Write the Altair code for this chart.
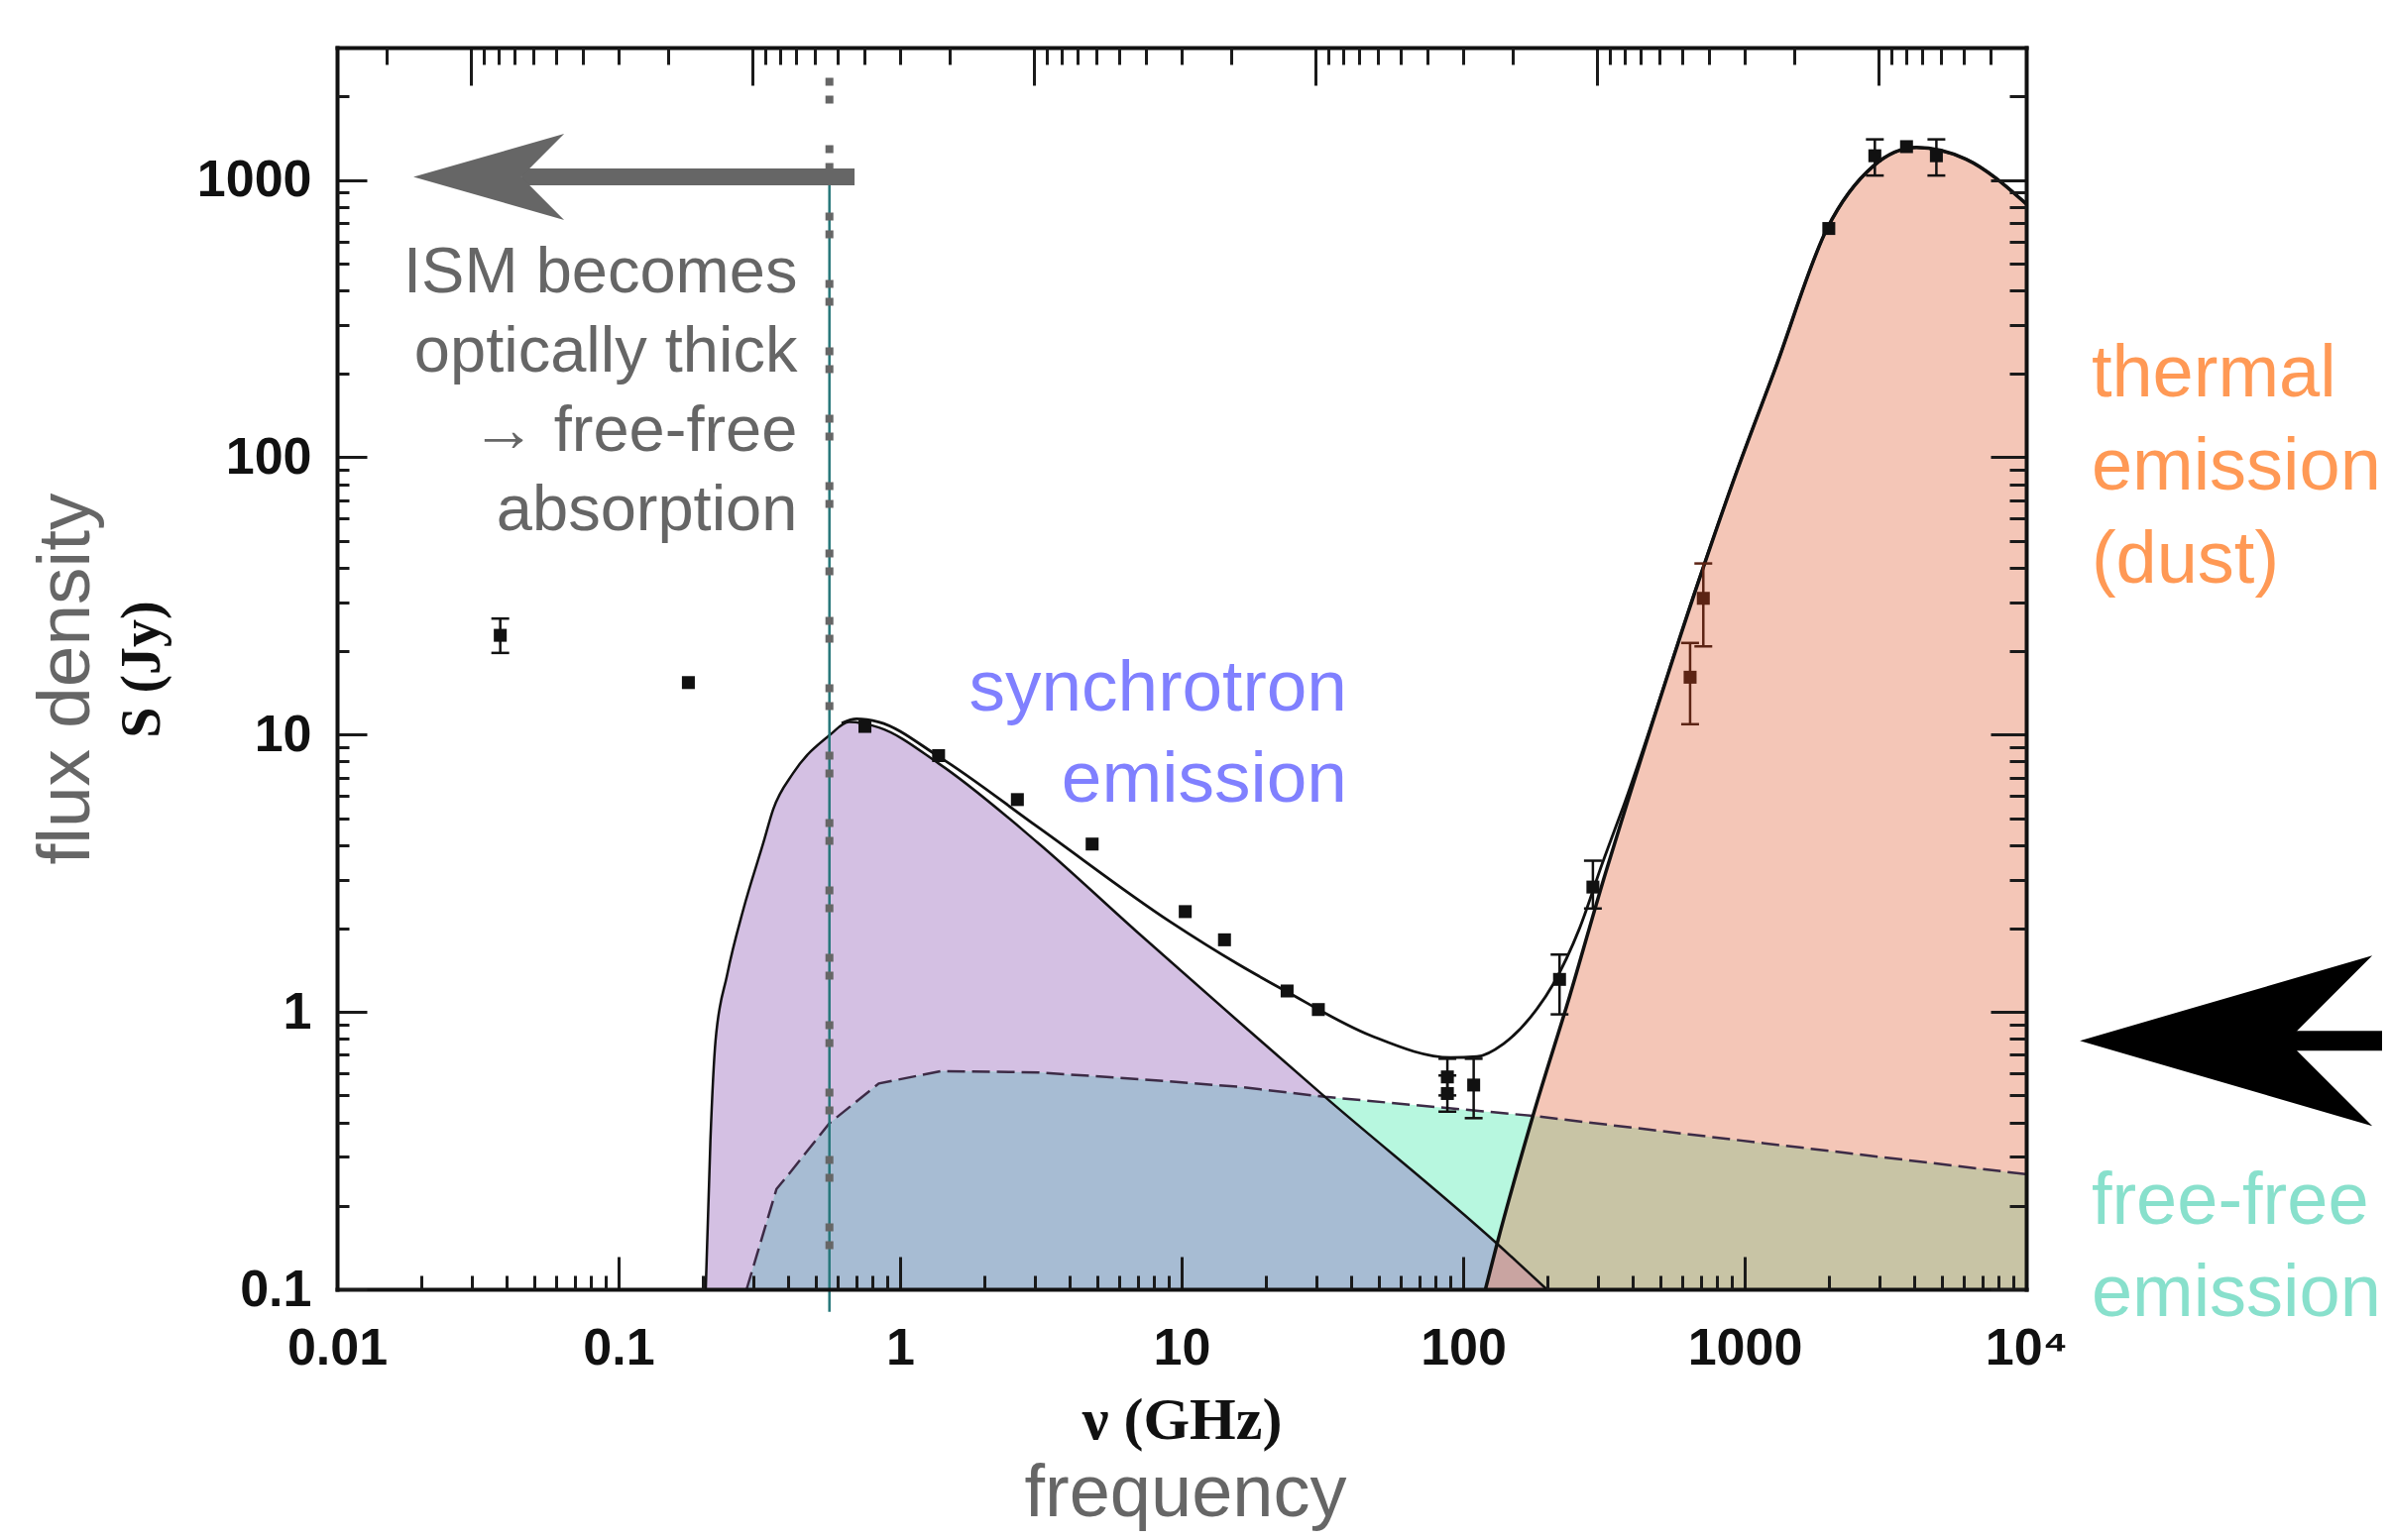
import json
import altair as alt
import pandas as pd

# ---------------- data (nu in GHz, S in Jy) ----------------
syn_nu = [0.204, 0.212, 0.221, 0.243, 0.278, 0.327, 0.354, 0.417, 0.561, 0.659, 0.841,
          1.37, 3.08, 6.92, 16.0, 32.3, 132, 198]
syn_S = [0.1, 0.346, 0.787, 1.36, 2.36, 4.08, 5.37, 7.26, 9.94, 11.1, 10.6,
         7.87, 4.08, 1.95, 0.92, 0.494, 0.146, 0.1]

ff_nu = [0.285, 0.364, 0.406, 0.561, 0.84, 1.40, 3.1, 7.1, 16.0, 32.3, 177, 923, 10000]
ff_S = [0.1, 0.230, 0.263, 0.397, 0.552, 0.612, 0.605, 0.572, 0.537, 0.494, 0.422, 0.346, 0.26]

dust_nu = [120, 132, 177, 239, 321, 373, 703, 923, 1276, 1963, 2870, 4074, 6109, 10000]
dust_S = [0.1, 0.146, 0.422, 1.14, 3.19, 5.22, 38.4, 85.0, 205, 668, 1124, 1309, 1188, 820]

tot_nu = [0.62, 0.70, 0.84, 1.37, 3.08, 9.08, 16.0, 23.4, 47.2, 90.3, 112, 139, 173, 209,
          259, 313, 373, 703, 923, 1276, 1963, 2870, 4074, 6109, 10000]
tot_S = [11.0, 11.4, 11.1, 8.34, 4.65, 2.12, 1.48, 1.19, 0.82, 0.685, 0.69, 0.767, 0.954, 1.26,
         2.0, 3.46, 5.6, 38.7, 85.3, 205, 668, 1124, 1309, 1188, 820]

# crossing frequencies of the components
syn_ff_cross = 32.3
dust_ff_cross = 177
syn_dust_cross = 132

obs_nu = [0.038, 0.177, 0.75, 1.37, 2.61, 4.81, 10.3, 14.2, 23.7, 30.6, 87.9, 87.9, 109,
          220, 289, 640, 713, 1990, 2900, 3758, 4797]
obs_S = [22.8, 15.4, 10.7, 8.4, 5.83, 4.03, 2.30, 1.82, 1.19, 1.02, 0.583, 0.508, 0.545,
         1.31, 2.82, 16.1, 31.0, 668, 1222, 1318, 1222]

err_nu = [0.038, 87.9, 87.9, 109, 220, 289, 640, 713, 2900, 4797]
err_lo = [19.7, 0.50, 0.437, 0.414, 0.98, 2.36, 10.9, 20.8, 1037, 1037]
err_hi = [26.2, 0.678, 0.59, 0.678, 1.61, 3.51, 21.4, 41.4, 1400, 1400]

# tick values / labels
x_major = [0.01, 0.1, 1, 10, 100, 1000, 10000]
x_labels = ["0.01", "0.1", "1", "10", "100", "1000", "10⁴"]
y_major = [0.1, 1, 10, 100, 1000]
y_labels = ["0.1", "1", "10", "100", "1000"]
minor_mult = [2, 3, 4, 5, 6, 7, 8, 9]
C_GHZ_M = 0.2998          # top axis: wavelength ticks, nu = c / lambda
lam_decades_m = [1e-5, 1e-4, 1e-3, 1e-2, 1e-1, 1, 10]

# annotations
vline_nu = 0.561
teal_top, teal_bottom = 1100, 0.083
dots_top, dots_bottom = 2335, 0.1
grey_arrow = dict(head_nu=0.0346, tail_nu=0.689, notch_nu=0.0452, S=1025)
black_arrow = dict(head_nu=51290, notch_nu=40000, tail_nu=185000, S=0.787)

ism_text = "ISM becomes\noptically thick\n→ free-free\nabsorption"
ism_pos = (0.4317, 391.6)
syn_text = "synchrotron\nemission"
syn_pos = (38.7, 12.2)
dust_text = "thermal\nemission\n(dust)"
dust_pos = (17060, 166.4)
fft_text = "free-free\nemission"
fft_pos = (17060, 0.172)

# ---------------- chart ----------------
W, H = 1704, 1253
xs = alt.Scale(type="log", domain=[0.01, 10000], nice=False)
ys = alt.Scale(type="log", domain=[0.1, 3000], nice=False)
SANS = "Liberation Sans"
SERIF = "Liberation Serif"


def df(nu, S):
    return pd.DataFrame({"nu": nu, "S": S})


syn = df(syn_nu, syn_S)
ff = df(ff_nu, ff_S)
dust = df(dust_nu, dust_S)
tot = df(tot_nu, tot_S)
syn_ff = pd.concat([ff[ff.nu <= syn_ff_cross], syn[syn.nu > syn_ff_cross]])
dust_ff = pd.concat([dust[dust.nu <= dust_ff_cross], ff[ff.nu > dust_ff_cross]])
syn_dust = pd.concat([dust[dust.nu <= syn_dust_cross], syn[syn.nu > syn_dust_cross]])

x_minor = [m * d for d in x_major[:-1] for m in minor_mult]
y_minor = [m * d for d in y_major[:-1] for m in minor_mult] + [2000]
top_all = [C_GHZ_M / (m * lam) for lam in lam_decades_m for m in range(1, 10)]
top_all = [v for v in top_all if 0.01 <= v <= 10000]
top_major = [C_GHZ_M / lam for lam in lam_decades_m if 0.01 <= C_GHZ_M / lam <= 10000]
top_minor = [v for v in top_all if all(abs(v - t) > 1e-9 for t in top_major)]


def X(field, axis=None):
    return alt.X(field, type="quantitative", scale=xs, axis=axis)


def Y(field, axis=None):
    return alt.Y(field, type="quantitative", scale=ys, axis=axis, stack=False)


def tick_axis(orient, offset, values, size, domain):
    return alt.Axis(orient=orient, offset=offset, values=values, labels=False, grid=False,
                    title=None, domain=domain, domainColor="#111111", domainWidth=4,
                    domainCap="square", ticks=True, tickColor="#1a1a1a", tickWidth=3,
                    tickSize=size, zindex=1)


x_label_expr = f"{json.dumps(x_labels, ensure_ascii=False)}[indexof({json.dumps(x_major)}, datum.value)]"
y_label_expr = f"{json.dumps(y_labels, ensure_ascii=False)}[indexof({json.dumps(y_major)}, datum.value)]"

ax_x_labels = alt.Axis(orient="bottom", values=x_major, labelExpr=x_label_expr, ticks=False,
                       tickSize=0, domain=False, grid=False, labelFont=SANS, labelFontWeight="bold",
                       labelFontSize=52, labelColor="#111111", labelPadding=34, labelFlush=False,
                       labelOverlap=False, title="ν (GHz)", titleFont=SERIF, titleFontWeight="bold",
                       titleFontSize=60, titleColor="#111111", titleY=150, titleBaseline="alphabetic")
ax_y_labels = alt.Axis(orient="left", values=y_major, labelExpr=y_label_expr, ticks=False,
                       tickSize=0, domain=False, grid=False, labelFont=SANS, labelFontWeight="bold",
                       labelFontSize=52, labelColor="#111111", labelPadding=26, labelFlush=False,
                       labelOverlap=False, title="S (Jy)", titleFont=SERIF, titleFontWeight="bold",
                       titleFontSize=56, titleColor="#111111", titleX=-180, titleY=627,
                       titleAngle=270, titleAlign="center", titleBaseline="alphabetic")

ax_xb_major = tick_axis("top", -H, x_major, 33, True)
ax_xb_minor = tick_axis("top", -H, x_minor, 14, False)
ax_xt_major = tick_axis("bottom", -H, top_major, 38, True)
ax_xt_minor = tick_axis("bottom", -H, top_minor, 17, False)
ax_yl_major = tick_axis("right", -W, y_major, 30, True)
ax_yl_minor = tick_axis("right", -W, y_minor, 12, False)
ax_yr_major = tick_axis("left", -W, y_major, 36, True)
ax_yr_minor = tick_axis("left", -W, y_minor, 17, False)


def area(data, color, interp, xaxis=None, yaxis=None):
    return alt.Chart(data).mark_area(color=color, interpolate=interp, opacity=1).encode(
        x=X("nu", xaxis), y=Y("S", yaxis), y2=alt.datum(0.1))


def line(data, color, width, interp, dash=None):
    kw = dict(color=color, strokeWidth=width, interpolate=interp)
    if dash:
        kw["strokeDash"] = dash
    return alt.Chart(data).mark_line(**kw).encode(x=X("nu"), y=Y("S"))


layers = [
    area(syn, "#d4c0e3", "monotone", ax_x_labels, ax_y_labels),
    area(ff, "#b7f7df", "linear", ax_xb_major, ax_yl_major),
    area(dust, "#f4c6b7", "monotone", ax_xb_minor, ax_yl_minor),
    area(syn_ff, "#a7bcd3", "linear", ax_xt_major, ax_yr_major),
    area(dust_ff, "#c8c4a5", "linear", ax_xt_minor, ax_yr_minor),
    area(syn_dust, "#c9a4a1", "linear"),
    line(ff, "#3d2b46", 2.5, "linear", [18, 7]),
    line(syn, "#111111", 2.5, "monotone"),
    line(dust, "#111111", 3.5, "monotone"),
    line(tot, "#111111", 2.8, "monotone"),
]

# error bars and data points
err = pd.DataFrame({"nu": err_nu, "lo": err_lo, "hi": err_hi})
obs = df(obs_nu, obs_S)
pt_color = alt.condition("datum.nu > 500 && datum.nu < 1000", alt.value("#5c2414"), alt.value("#111111"))
layers += [
    alt.Chart(err).mark_rule(strokeWidth=2.5).encode(x=X("nu"), y=Y("lo"), y2="hi", color=pt_color),
    alt.Chart(err).mark_tick(orient="horizontal", size=18, thickness=2.5, opacity=1).encode(
        x=X("nu"), y=Y("lo"), color=pt_color),
    alt.Chart(err).mark_tick(orient="horizontal", size=18, thickness=2.5, opacity=1).encode(
        x=X("nu"), y=Y("hi"), color=pt_color),
    alt.Chart(obs).mark_point(shape="square", filled=True, size=170, opacity=1).encode(
        x=X("nu"), y=Y("S"), color=pt_color),
]

# vertical teal line and grey dotted line
vl = pd.DataFrame({"nu": [vline_nu], "t0": [teal_top], "t1": [teal_bottom],
                   "d0": [dots_top], "d1": [dots_bottom]})
layers += [
    alt.Chart(vl).mark_rule(color="#26777a", strokeWidth=2.5).encode(x=X("nu"), y=Y("t0"), y2="t1"),
    alt.Chart(vl).mark_rule(color="#666666", strokeWidth=8, strokeDash=[8, 10, 8, 42],
                            strokeCap="butt").encode(x=X("nu"), y=Y("d0"), y2="d1"),
]

# arrows
ga = pd.DataFrame([grey_arrow])
ba = pd.DataFrame([black_arrow])
layers += [
    alt.Chart(ga).mark_rule(color="#666666", strokeWidth=17, strokeCap="butt").encode(
        x=X("notch_nu"), x2="tail_nu", y=Y("S")),
    alt.Chart(ga).mark_point(shape="M -1 0 L 1 -0.572 L 0.43 0 L 1 0.572 Z", filled=True,
                             opacity=1, size=23104, color="#666666").encode(
        x=X("head_nu"), y=Y("S")),
    alt.Chart(ba).mark_rule(color="#000000", strokeWidth=20, strokeCap="butt").encode(
        x=X("notch_nu"), x2="tail_nu", y=Y("S")),
    alt.Chart(ba).mark_point(shape="M -1 0 L 1 -0.583 L 0.417 0 L 1 0.583 Z", filled=True,
                             opacity=1, size=87025, color="#000000").encode(
        x=X("head_nu"), y=Y("S")),
]


def note(text, pos, color, size, lh, align):
    d = pd.DataFrame({"nu": [pos[0]], "S": [pos[1]], "label": [text]})
    return alt.Chart(d).mark_text(font=SANS, fontSize=size, color=color, align=align,
                                  baseline="alphabetic", lineBreak="\n", lineHeight=lh).encode(
        x=X("nu"), y=Y("S"), text="label:N")


layers += [
    note(ism_text, ism_pos, "#666666", 65, 80, "right"),
    note(syn_text, syn_pos, "#8080ff", 73, 92, "right"),
    note(dust_text, dust_pos, "#ff9955", 74, 94, "left"),
    note(fft_text, fft_pos, "#88e0cc", 74, 93, "left"),
]

# extra plain-language axis titles
layers += [
    alt.Chart(pd.DataFrame({"t": ["flux density"]})).mark_text(
        font=SANS, fontSize=75, color="#666666", angle=270, align="center",
        baseline="alphabetic").encode(x=alt.value(-250), y=alt.value(637), text="t:N"),
    alt.Chart(pd.DataFrame({"t": ["frequency"]})).mark_text(
        font=SANS, fontSize=74, color="#666666", align="center",
        baseline="alphabetic").encode(x=alt.value(856), y=alt.value(1482), text="t:N"),
]

chart = alt.layer(*layers).resolve_axis(x="independent", y="independent").properties(
    width=W, height=H,
    autosize=alt.AutoSizeParams(type="none"),
    padding={"left": 332, "top": 40, "right": 359, "bottom": 245},
).configure_view(stroke="transparent", strokeWidth=0)

chart.save("out.html", embed_options={"renderer": "svg", "actions": False})
